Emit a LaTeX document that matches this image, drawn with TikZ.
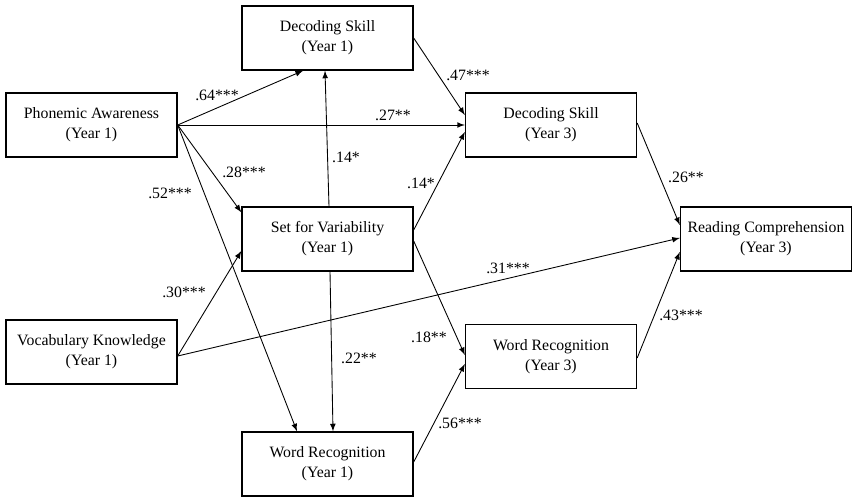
\documentclass[tikz,border=0pt]{standalone}
\usepackage{fontspec}
\setmainfont{Liberation Serif}
\usepackage{tikz}
\usetikzlibrary{arrows,calc}
\tikzstyle{var}=[rectangle,draw=black,line width=0.8pt,inner sep=0pt,
  minimum width=3.42cm,minimum height=1.28cm,align=center,
  font=\fontsize{9}{11.4}\selectfont]
\tikzstyle{coef}=[inner sep=0pt,font=\fontsize{9}{11}\selectfont]
\tikzstyle{arr}=[-latex,line width=0.5pt]

\begin{document}
\begin{tikzpicture}[x=0.02cm,y=-0.02cm]
        \useasboundingbox (0,0) rectangle (852,497);
        \node [style=var] (0) at (91.5,125) {Phonemic Awareness\\(Year 1)};
        \node [style=var] (1) at (327.5,38) {Decoding Skill\\(Year 1)};
        \node [style=var] (2) at (327.5,239) {Set for Variability\\(Year 1)};
        \node [style=var] (3) at (91.5,352) {Vocabulary Knowledge\\(Year 1)};
        \node [style=var] (4) at (327.5,464) {Word Recognition\\(Year 1)};
        \node [style=var] (5) at (551,125) {Decoding Skill\\(Year 3)};
        \node [style=var] (6) at (551,356.5) {Word Recognition\\(Year 3)};
        \node [style=var] (7) at (766,239) {Reading Comprehension\\(Year 3)};
        \draw [style=arr] (0.east) to ($(1.south)+(-24.5,0)$);
        \draw [style=arr] (0.east) to (5.west);
        \draw [style=arr] (0.east) to ($(2.north west)+(0,6)$);
        \draw [style=arr] (0.east) to ($(4.north)+(-30.5,0)$);
        \draw [style=arr] ($(2.north)+(1.5,0)$) to ($(1.south)+(-2.5,0)$);
        \draw [style=arr] ($(2.east)+(0,-9)$) to ($(5.west)+(0,7)$);
        \draw [style=arr] ($(2.east)+(0,2)$) to ($(6.west)+(0,-1.5)$);
        \draw [style=arr] ($(2.south)+(2.5,0)$) to ($(4.north)+(5.5,0)$);
        \draw [style=arr] ($(3.east)+(0,4)$) to ($(2.west)+(0,12)$);
        \draw [style=arr] ($(3.east)+(0,4)$) to ($(7.west)+(0,-1)$);
        \draw [style=arr] ($(4.east)+(0,-2)$) to ($(6.west)+(0,7.5)$);
        \draw [style=arr] (1.east) to ($(5.west)+(0,-10)$);
        \draw [style=arr] ($(5.east)+(0,-2)$) to ($(7.west)+(0,-14)$);
        \draw [style=arr] ($(6.east)+(0,1.5)$) to ($(7.west)+(0,13)$);
        \node [style=coef] (8) at (217,95) {.64***};
        \node [style=coef] (9) at (393,115) {.27**};
        \node [style=coef] (10) at (244,172) {.28***};
        \node [style=coef] (11) at (170,193) {.52***};
        \node [style=coef] (12) at (346,157) {.14*};
        \node [style=coef] (13) at (421,183) {.14*};
        \node [style=coef] (14) at (468,75) {.47***};
        \node [style=coef] (15) at (686,177) {.26**};
        \node [style=coef] (16) at (184,292) {.30***};
        \node [style=coef] (17) at (359,358) {.22**};
        \node [style=coef] (18) at (429,337) {.18**};
        \node [style=coef] (19) at (460,423) {.56***};
        \node [style=coef] (20) at (508,268) {.31***};
        \node [style=coef] (21) at (681,315) {.43***};
    \end{tikzpicture}
\end{document}
